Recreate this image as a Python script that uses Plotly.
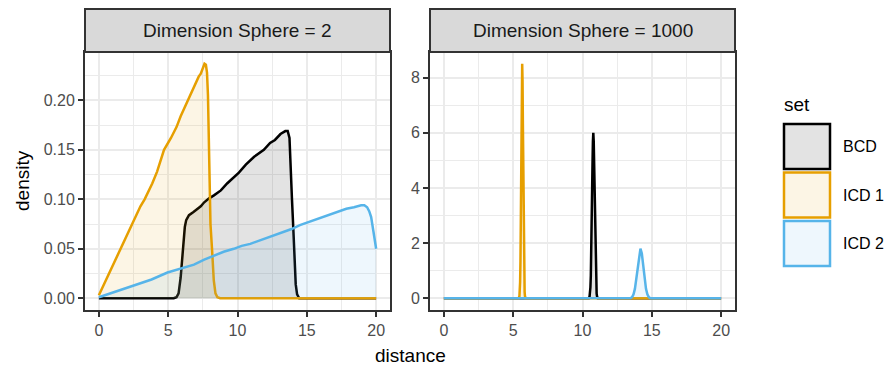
import plotly.graph_objects as go

W, H = 891, 368

# ---- data: estimated densities of distances ----
sets = ["BCD", "ICD 1", "ICD 2"]
panels = ["Dimension Sphere = 2", "Dimension Sphere = 1000"]

# Dimension Sphere = 2
bcd_d2_x = [0, 5.4, 5.6, 5.75, 5.9, 6.0, 6.1, 6.2, 6.3, 6.5, 6.8, 7.1, 7.35, 7.6, 7.95,
            8.3, 8.8, 9.25, 9.7, 10.1, 10.6, 11.2, 11.9, 12.35, 12.7, 13.1, 13.45, 13.62,
            13.75, 13.85, 13.93, 14.03, 14.12, 14.2, 14.3, 14.45, 20]
bcd_d2_y = [0, 0, 0.001, 0.005, 0.021, 0.040, 0.058, 0.072, 0.079, 0.084, 0.087, 0.090,
            0.093, 0.097, 0.101, 0.104, 0.109, 0.116, 0.122, 0.127, 0.135, 0.143, 0.150,
            0.157, 0.160, 0.166, 0.169, 0.169, 0.162, 0.135, 0.100, 0.069, 0.035, 0.014,
            0.004, 0.0, 0]

icd1_d2_x = [0, 0.5, 0.9, 1.4, 1.85, 2.3, 2.6, 3.0, 3.3, 3.55, 3.85, 4.2, 4.7, 5.2, 5.6,
             5.9, 6.4, 6.9, 7.2, 7.35, 7.5, 7.62, 7.72, 7.8, 7.87, 7.95, 8.05, 8.17, 8.29,
             8.41, 8.55, 8.75, 20]
icd1_d2_y = [0.003, 0.018, 0.031, 0.045, 0.058, 0.072, 0.082, 0.093, 0.100, 0.107, 0.116,
             0.128, 0.150, 0.162, 0.173, 0.184, 0.200, 0.216, 0.224, 0.227, 0.234, 0.237,
             0.236, 0.228, 0.205, 0.130, 0.075, 0.048, 0.018, 0.005, 0.001, 0.0, 0.0]

icd2_d2_x = [0, 1.3, 2.56, 3.8, 4.95, 5.9, 6.86, 7.6, 8.29, 9.0, 9.73, 10.3, 10.92, 11.5,
             12.11, 12.7, 13.31, 13.9, 14.5, 15.1, 15.7, 16.3, 16.9, 17.4, 17.85, 18.4,
             18.92, 19.15, 19.35, 19.5, 19.64, 19.8, 20.0]
icd2_d2_y = [0.001, 0.007, 0.0128, 0.019, 0.026, 0.030, 0.034, 0.039, 0.043, 0.047, 0.050,
             0.053, 0.055, 0.058, 0.061, 0.064, 0.067, 0.070, 0.074, 0.077, 0.080, 0.083,
             0.086, 0.088, 0.0905, 0.092, 0.094, 0.094, 0.092, 0.088, 0.082, 0.068, 0.050]

# Dimension Sphere = 1000
bcd_d1000_x = [0, 10.46, 10.51, 10.54, 10.57, 10.60, 10.63, 10.66, 10.69, 10.72, 10.75,
               10.78, 10.81, 10.84, 10.87, 10.90, 10.93, 10.96, 10.99, 11.02, 11.05,
               11.10, 20]
bcd_d1000_y = [0, 0, 0.067, 0.17, 0.39, 0.81, 1.50, 2.47, 3.64, 4.81, 5.68,
               6.0, 5.68, 4.81, 3.64, 2.47, 1.50, 0.81, 0.39, 0.17, 0.067,
               0, 0]

icd1_d1000_x = [0, 5.40, 5.45, 5.475, 5.50, 5.525, 5.55, 5.575, 5.60, 5.625, 5.65,
                5.675, 5.70, 5.725, 5.75, 5.775, 5.80, 5.825, 5.85, 5.90, 20]
icd1_d1000_y = [0, 0, 0.075, 0.23, 0.59, 1.34, 2.60, 4.37, 6.32, 7.89, 8.5,
                7.89, 6.32, 4.37, 2.60, 1.34, 0.59, 0.23, 0.075, 0, 0]

icd2_d1000_x = [0, 13.38, 13.48, 13.58, 13.68, 13.78, 13.88, 13.98, 14.08, 14.18, 14.28,
                14.38, 14.48, 14.58, 14.68, 14.78, 14.88, 14.98, 20]
icd2_d1000_y = [0, 0, 0.01, 0.04, 0.14, 0.34, 0.71, 1.19, 1.62, 1.8, 1.62,
                1.19, 0.71, 0.34, 0.14, 0.04, 0.01, 0, 0]

series = {
    1: [(bcd_d2_x, bcd_d2_y), (icd1_d2_x, icd1_d2_y), (icd2_d2_x, icd2_d2_y)],
    2: [(bcd_d1000_x, bcd_d1000_y), (icd1_d1000_x, icd1_d1000_y), (icd2_d1000_x, icd2_d1000_y)],
}

line_colors = {"BCD": "#000000", "ICD 1": "#E69F00", "ICD 2": "#56B4E9"}
fill_colors = {"BCD": "rgba(0,0,0,0.11)", "ICD 1": "rgba(230,159,0,0.10)",
               "ICD 2": "rgba(86,180,233,0.10)"}

FONT = "Liberation Sans, Arial, Helvetica, sans-serif"


def px_x(p):
    return p / W


def px_y(p):
    return (H - p) / H


fig = go.Figure()

for k in (1, 2):
    xa = "x" if k == 1 else "x2"
    ya = "y" if k == 1 else "y2"
    for name, (xs, ys) in zip(sets, series[k]):
        fig.add_trace(go.Scatter(
            x=xs, y=ys, mode="lines", name=name, xaxis=xa, yaxis=ya,
            line=dict(color=line_colors[name], width=2.5),
            fill="tozeroy", fillcolor=fill_colors[name],
            showlegend=False, hoverinfo="skip",
        ))

# panel geometry (pixels)
panel_left = [(85, 390), (430, 735)]
panel_top, panel_bottom = 52, 310
strip_top = 9

grid = "#EBEBEB"
axis_common = dict(
    showline=True, mirror=True, linecolor="#333333", linewidth=2,
    ticks="outside", ticklen=5, tickwidth=2, tickcolor="#333333",
    tickfont=dict(family=FONT, size=16, color="#4D4D4D"),
    showgrid=True, gridcolor=grid, gridwidth=2, zeroline=False,
)

y_dom = [px_y(panel_bottom), px_y(panel_top)]

fig.update_layout(
    width=W, height=H,
    margin=dict(l=0, r=0, t=0, b=0),
    paper_bgcolor="white", plot_bgcolor="white",
    showlegend=False,
    xaxis=dict(domain=[px_x(panel_left[0][0]), px_x(panel_left[0][1])], range=[-1, 21],
               tickvals=[0, 5, 10, 15, 20], anchor="y",
               minor=dict(tickvals=[2.5, 7.5, 12.5, 17.5], showgrid=True, gridcolor=grid,
                          gridwidth=1, ticks=""),
               **axis_common),
    yaxis=dict(domain=y_dom, range=[-0.01185, 0.2489], anchor="x",
               tickvals=[0, 0.05, 0.10, 0.15, 0.20], tickformat=".2f",
               minor=dict(tickvals=[0.025, 0.075, 0.125, 0.175, 0.225], showgrid=True,
                          gridcolor=grid, gridwidth=1, ticks=""),
               **axis_common),
    xaxis2=dict(domain=[px_x(panel_left[1][0]), px_x(panel_left[1][1])], range=[-1, 21],
                tickvals=[0, 5, 10, 15, 20], anchor="y2",
                minor=dict(tickvals=[2.5, 7.5, 12.5, 17.5], showgrid=True, gridcolor=grid,
                           gridwidth=1, ticks=""),
                **axis_common),
    yaxis2=dict(domain=y_dom, range=[-0.425, 8.925], anchor="x2",
                tickvals=[0, 2, 4, 6, 8],
                minor=dict(tickvals=[1, 3, 5, 7], showgrid=True, gridcolor=grid,
                           gridwidth=1, ticks=""),
                **axis_common),
)

shapes = []
annotations = []

# facet strips
for (x0, x1), label in zip(panel_left, panels):
    shapes.append(dict(type="rect", xref="paper", yref="paper",
                       x0=px_x(x0), x1=px_x(x1), y0=px_y(panel_top), y1=px_y(strip_top),
                       fillcolor="#D9D9D9", line=dict(color="#333333", width=2), layer="above"))
    annotations.append(dict(text=label, xref="paper", yref="paper",
                            x=px_x((x0 + x1) / 2), y=px_y((strip_top + panel_top) / 2),
                            showarrow=False, xanchor="center", yanchor="middle",
                            font=dict(family=FONT, size=19, color="#1A1A1A")))

# axis titles
annotations.append(dict(text="distance", xref="paper", yref="paper",
                        x=px_x(410), y=px_y(355), showarrow=False,
                        xanchor="center", yanchor="middle",
                        font=dict(family=FONT, size=19, color="black")))
annotations.append(dict(text="density", xref="paper", yref="paper",
                        x=px_x(22), y=px_y(181), showarrow=False, textangle=-90,
                        xanchor="center", yanchor="middle",
                        font=dict(family=FONT, size=19, color="black")))

# legend
annotations.append(dict(text="set", xref="paper", yref="paper",
                        x=px_x(782), y=px_y(104), showarrow=False,
                        xanchor="left", yanchor="middle",
                        font=dict(family=FONT, size=19, color="black")))
key_tops = [123, 171.5, 220]
key_h = 47
for name, top in zip(sets, key_tops):
    shapes.append(dict(type="rect", xref="paper", yref="paper",
                       x0=px_x(784), x1=px_x(830), y0=px_y(top + key_h - 1), y1=px_y(top + 1),
                       fillcolor=fill_colors[name],
                       line=dict(color=line_colors[name], width=2.5)))
    annotations.append(dict(text=name, xref="paper", yref="paper",
                            x=px_x(841), y=px_y(top + key_h / 2), showarrow=False,
                            xanchor="left", yanchor="middle",
                            font=dict(family=FONT, size=16, color="black")))

fig.update_layout(shapes=shapes, annotations=annotations)

fig.write_html("out.html")
